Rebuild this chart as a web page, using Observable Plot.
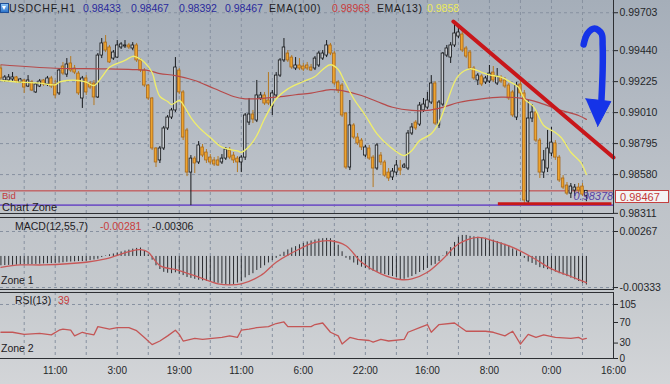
<!DOCTYPE html>
<html><head><meta charset="utf-8">
<script src="https://cdn.jsdelivr.net/npm/d3@7"></script>
<script src="https://cdn.jsdelivr.net/npm/@observablehq/plot@0.6"></script>
<style>
 html,body{margin:0;padding:0;}
 body{width:670px;height:384px;overflow:hidden;background:linear-gradient(180deg,#a5aeb9 0%,#b2b9c2 26%,#bec3c9 52%,#c5c9cd 75%,#d3d5d8 100%);font-family:"Liberation Sans",Arial,sans-serif;}
 #wrap{position:relative;width:670px;height:384px;}
 #wrap svg{position:absolute;left:0;}
 .t{position:absolute;white-space:nowrap;line-height:1;font-size:10.5px;transform:translateY(-50%);color:#1e2023;}
 .hl{position:absolute;left:0;width:614px;height:1px;background:#2d2f33;}
</style></head>
<body><div id="wrap"></div>
<script>
// ---------- DATA ----------
const firstBar = -14;
const open = [
0.99316,0.99233,0.99233,0.99240,0.99254,0.99219,0.99233,0.99191,0.99219,0.99150,
0.99191,0.99233,0.99205,0.99247,0.99205,0.99143,0.99330,0.99274,0.99351,0.99316,
0.99281,0.99108,0.99247,0.99212,0.99212,0.99115,0.99406,0.99496,0.99462,0.99385,
0.99392,0.99462,0.99469,0.99476,0.99455,0.99476,0.99372,0.99302,0.99198,0.99108,
0.98761,0.98678,0.98761,0.98900,0.98976,0.99025,0.99302,0.99150,0.98886,0.98594,
0.98691,0.98664,0.98768,0.98733,0.98698,0.98678,0.98678,0.98664,0.98691,0.98747,
0.98712,0.98691,0.98664,0.98698,0.98941,0.98997,0.98955,0.99108,0.99129,0.99094,
0.99052,0.99129,0.99267,0.99372,0.99420,0.99392,0.99316,0.99337,0.99330,0.99337,
0.99323,0.99316,0.99337,0.99385,0.99406,0.99476,0.99420,0.99219,0.99198,0.99004,
0.98629,0.98921,0.98837,0.98816,0.98712,0.98761,0.98698,0.98622,0.98712,0.98664,
0.98594,0.98560,0.98594,0.98622,0.98629,0.98622,0.98865,0.98941,0.98927,0.99025,
0.99045,0.99080,0.99212,0.98921,0.99066,0.99406,0.99392,0.99476,0.99538,0.99552,
0.99455,0.99427,0.99316,0.99233,0.99261,0.99219,0.99226,0.99288,0.99212,0.99254,
0.99233,0.99198,0.99150,0.98976,0.99205,0.99143,0.98393,0.98969,0.99011,0.98816,
0.98594,0.98622,0.98726,0.98796,0.98698,0.98553,0.98504,0.98448,0.98469,0.98490,0.98497,0.98433];
const high = [
0.99337,0.99267,0.99274,0.99288,0.99261,0.99247,0.99240,0.99267,0.99233,0.99212,
0.99240,0.99240,0.99261,0.99261,0.99233,0.99316,0.99358,0.99385,0.99399,0.99337,
0.99295,0.99261,0.99267,0.99226,0.99233,0.99420,0.99524,0.99545,0.99476,0.99441,
0.99510,0.99496,0.99510,0.99490,0.99496,0.99490,0.99385,0.99316,0.99205,0.99115,
0.98768,0.98775,0.98914,0.98990,0.99039,0.99392,0.99316,0.99163,0.98900,0.98712,
0.98705,0.98809,0.98789,0.98754,0.98719,0.98698,0.98705,0.98719,0.98768,0.98768,
0.98733,0.98705,0.98712,0.99004,0.99108,0.99025,0.99233,0.99150,0.99150,0.99288,
0.99163,0.99288,0.99385,0.99524,0.99441,0.99406,0.99392,0.99385,0.99351,0.99358,
0.99344,0.99399,0.99434,0.99441,0.99510,0.99490,0.99434,0.99233,0.99212,0.99011,
0.99094,0.98934,0.98865,0.98830,0.98782,0.98782,0.98712,0.98796,0.98733,0.98678,
0.98622,0.98622,0.98678,0.98678,0.98657,0.98886,0.98934,0.98955,0.99080,0.99108,
0.99150,0.99267,0.99226,0.99094,0.99427,0.99476,0.99496,0.99635,0.99621,0.99580,
0.99469,0.99441,0.99330,0.99281,0.99274,0.99261,0.99337,0.99330,0.99316,0.99267,
0.99254,0.99212,0.99163,0.99219,0.99247,0.99163,0.99094,0.99066,0.99025,0.98830,
0.98747,0.98886,0.98907,0.98816,0.98712,0.98573,0.98525,0.98518,0.98511,0.98518,0.98518,0.98467];
const low = [
0.99233,0.99219,0.99219,0.99219,0.99212,0.99212,0.99143,0.99184,0.99156,0.99143,
0.99184,0.99191,0.99191,0.99177,0.99108,0.99129,0.99267,0.99254,0.99288,0.99274,
0.99129,0.99039,0.99129,0.99170,0.99059,0.99108,0.99385,0.99427,0.99351,0.99372,
0.99385,0.99448,0.99455,0.99448,0.99441,0.99358,0.99288,0.99184,0.99094,0.98747,
0.98629,0.98657,0.98747,0.98886,0.98962,0.99011,0.99136,0.98816,0.98566,0.98365,
0.98587,0.98650,0.98698,0.98657,0.98650,0.98636,0.98636,0.98650,0.98678,0.98684,
0.98657,0.98594,0.98594,0.98678,0.98921,0.98934,0.98941,0.99094,0.99059,0.99059,
0.98990,0.99115,0.99254,0.99358,0.99358,0.99309,0.99302,0.99302,0.99295,0.99302,
0.99295,0.99302,0.99323,0.99372,0.99392,0.99406,0.99198,0.99143,0.98976,0.98615,
0.98608,0.98823,0.98782,0.98747,0.98698,0.98678,0.98490,0.98608,0.98643,0.98560,
0.98532,0.98539,0.98573,0.98573,0.98622,0.98608,0.98851,0.98886,0.98914,0.99011,
0.99032,0.99066,0.98921,0.98900,0.99052,0.99392,0.99351,0.99462,0.99524,0.99427,
0.99385,0.99302,0.99233,0.99198,0.99191,0.99205,0.99212,0.99219,0.99198,0.99212,
0.99177,0.99094,0.98976,0.98955,0.99122,0.98372,0.98372,0.98941,0.98802,0.98553,
0.98553,0.98594,0.98705,0.98678,0.98525,0.98476,0.98435,0.98414,0.98428,0.98441,0.98428,0.98392];
const close = [
0.99247,0.99254,0.99254,0.99254,0.99226,0.99240,0.99184,0.99233,0.99163,0.99205,
0.99226,0.99205,0.99247,0.99191,0.99129,0.99302,0.99281,0.99344,0.99302,0.99288,
0.99143,0.99247,0.99150,0.99184,0.99115,0.99406,0.99490,0.99441,0.99358,0.99427,
0.99476,0.99483,0.99476,0.99462,0.99476,0.99372,0.99302,0.99198,0.99108,0.98761,
0.98664,0.98761,0.98900,0.98976,0.99025,0.99323,0.99150,0.98837,0.98594,0.98691,
0.98657,0.98782,0.98712,0.98678,0.98664,0.98650,0.98643,0.98691,0.98754,0.98698,
0.98678,0.98664,0.98698,0.98990,0.98997,0.98962,0.99129,0.99129,0.99073,0.99073,
0.99143,0.99267,0.99372,0.99462,0.99372,0.99323,0.99337,0.99316,0.99309,0.99316,
0.99302,0.99385,0.99420,0.99420,0.99476,0.99420,0.99212,0.99163,0.98990,0.98629,
0.98921,0.98837,0.98796,0.98768,0.98768,0.98691,0.98622,0.98782,0.98664,0.98573,
0.98553,0.98601,0.98643,0.98608,0.98643,0.98865,0.98907,0.98900,0.99059,0.99066,
0.99094,0.99212,0.98934,0.99080,0.99420,0.99455,0.99476,0.99559,0.99566,0.99441,
0.99399,0.99316,0.99247,0.99267,0.99205,0.99247,0.99281,0.99233,0.99261,0.99226,
0.99191,0.99108,0.98990,0.99198,0.99143,0.98400,0.98969,0.99011,0.98816,0.98594,
0.98678,0.98761,0.98802,0.98698,0.98539,0.98490,0.98448,0.98497,0.98490,0.98469,0.98441,0.98467];

const ema100Bar = [-14,0,12,20,24,27,31,36,41,46,49,52,57,62,66,71,74,79,83,87,92,96,100,104,110,115,120,125,130,135,137];
const ema100Val = [0.99342,0.99318,0.99314,0.99309,0.99302,0.99281,0.99267,0.99233,0.99177,0.99122,0.99106,0.99106,0.99117,0.99134,0.99145,0.99170,0.99163,0.99129,0.99087,0.99047,0.99025,0.99025,0.99047,0.99080,0.99106,0.99117,0.99110,0.99078,0.99029,0.98990,0.98963];

const ema13Bar = [-14,-9,-4,0,1,3,6,8,10,12,14,18,20,21,23,25,26,27,29,30,32,33,35,37,40,43,47,48,50,52,54,57,60,64,67,69,71,73,74.5,77,80,83,86.5,90,92,94,97,99,101,104,107,110,112,115,117.5,119.5,121,123.5,126,129,130.5,133,135.5,137];
const ema13Val = [0.99233,0.99221,0.99214,0.99203,0.99221,0.99233,0.99233,0.99221,0.99198,0.99256,0.99325,0.99372,0.99401,0.99395,0.99360,0.99288,0.99191,0.99122,0.99087,0.99066,0.99094,0.99066,0.98976,0.98909,0.98837,0.98770,0.98744,0.98735,0.98775,0.98851,0.98967,0.99106,0.99175,0.99226,0.99261,0.99309,0.99342,0.99309,0.99233,0.99106,0.98990,0.98863,0.98770,0.98712,0.98747,0.98816,0.98863,0.98943,0.99082,0.99267,0.99314,0.99290,0.99272,0.99256,0.99221,0.99186,0.99106,0.99047,0.98921,0.98872,0.98837,0.98735,0.98666,0.98582];

const macdHist = [
-0.00100,-0.00098,-0.00096,-0.00095,-0.00093,-0.00090,-0.00090,-0.00088,-0.00087,-0.00085,
-0.00083,-0.00080,-0.00078,-0.00077,-0.00076,-0.00072,-0.00068,-0.00062,-0.00060,-0.00058,
-0.00055,-0.00055,-0.00052,-0.00045,-0.00038,-0.00030,-0.00012,0.00005,0.00018,0.00026,
0.00038,0.00048,0.00058,0.00068,0.00078,0.00086,0.00090,0.00060,0.00015,-0.00040,
-0.00100,-0.00140,-0.00170,-0.00180,-0.00185,-0.00175,-0.00190,-0.00205,-0.00225,-0.00235,
-0.00245,-0.00255,-0.00262,-0.00268,-0.00275,-0.00282,-0.00288,-0.00295,-0.00302,-0.00308,
-0.00300,-0.00285,-0.00270,-0.00230,-0.00205,-0.00185,-0.00150,-0.00128,-0.00100,-0.00070,
-0.00045,-0.00020,0.00015,0.00045,0.00070,0.00090,0.00105,0.00125,0.00140,0.00155,
0.00165,0.00175,0.00185,0.00190,0.00193,0.00190,0.00170,0.00120,0.00050,-0.00020,
-0.00040,-0.00070,-0.00095,-0.00115,-0.00130,-0.00145,-0.00160,-0.00170,-0.00185,-0.00195,
-0.00205,-0.00215,-0.00225,-0.00247,-0.00245,-0.00230,-0.00215,-0.00195,-0.00172,-0.00150,
-0.00128,-0.00100,-0.00085,-0.00055,0.00005,0.00050,0.00095,0.00150,0.00205,0.00225,
0.00225,0.00215,0.00210,0.00205,0.00200,0.00195,0.00185,0.00175,0.00160,0.00145,
0.00130,0.00110,0.00080,0.00060,0.00040,-0.00020,-0.00060,-0.00075,-0.00095,-0.00120,
-0.00130,-0.00142,-0.00155,-0.00168,-0.00185,-0.00200,-0.00216,-0.00232,-0.00250,-0.00268,-0.00288,-0.00306];

const signalBar = [-14,-9,-3,8,13,19,22,24,27,32,37,42,45,48,53,57,63,67,71,75,79,84,89,92,96,100,104,109,113,118,123,128,133,137];
const signalVal = [-0.00116,-0.00091,-0.00091,-0.00062,-0.00027,0.00051,0.00072,0.00044,-0.00098,-0.00151,-0.00222,-0.00293,-0.00304,-0.00293,-0.00204,-0.00062,0.00080,0.00150,0.00168,0.00115,-0.00062,-0.00187,-0.00247,-0.00240,-0.00169,-0.00027,0.00133,0.00204,0.00168,0.00097,-0.00009,-0.00133,-0.00215,-0.00281];

const rsiBar = [-14,-11,-8,-4,-1,1,2,4,5,7,8,10,11,14,16,19,21,23,25,27,29,31,32,33,36,38,43,45,47,48,50,52,55,57,59,60,64,66,67,69,71,73,74,76,78,81,82,84,86,90,91,94,96,97,99,103,106,111,113,116,118,120,122,124,126,129,133,135,136,137];
const rsiVal = [51,51,47,49,46,55,57,55,44,51,49,46,62,57,60,60,54,41,27,34,44,55,47,34,39,37,41,44,41,55,57,60,62,68,71,62,62,62,66,69,51,44,28,41,37,35,32,37,34,37,51,60,66,51,66,69,53,53,51,44,53,28,47,41,46,41,39,41,37,39];

const priceTicks = [0.99703,0.99440,0.99225,0.99010,0.98795,0.98580,0.98311];
const macdTicks = [0.00267,-0.00333];
const rsiTicks = [105,70,30,0];
const timeTickBars = [0,16,32,48,64,80,96,112,128,144];
const timeLabels = ["11:00","3:00","19:00","11:00","6:00","22:00","16:00","8:00","0:00","16:00"];

const zonePrice = 0.98368;
const supportBar = [114.3,143.6];
const supportPrice = 0.98378;
const trendBar = [102.7,144];
const trendVal = [0.99642,0.98698];
const arrowBar = [136.3,137.3,139.1,140.9,141.2,141.2,140.9];
const arrowVal = [0.99483,0.99559,0.99594,0.99559,0.99476,0.99302,0.99101];
const headBar = [136.8,143.3,139.9];
const headVal = [0.99106,0.99087,0.98914];

// ---------- BUILD ----------
const X_DOMAIN = [-14.11, 144];
const last = close.length - 1;
const bidPrice = close[last];
const bars = open.map((o,k)=>({i:firstBar+k, open:o, high:high[k], low:low[k], close:close[k]}));
const bull = bars.filter(d=>d.close>=d.open), bear = bars.filter(d=>d.close<d.open);
const pts = (b,v)=>b.map((x,k)=>({bar:x, val:v[k]}));
const ema100 = pts(ema100Bar, ema100Val), ema13 = pts(ema13Bar, ema13Val);
const hist = macdHist.map((v,k)=>({bar:firstBar+k, val:v, base:0}));
const signal = pts(signalBar, signalVal), rsi = pts(rsiBar, rsiVal);
const trend = pts(trendBar, trendVal), arrow = pts(arrowBar, arrowVal), head = pts(headBar, headVal);
const gridBars = d3.range(-8, 144, 8);

const FONT = '"Liberation Sans", Arial, sans-serif';
const baseStyle = {background:"transparent", fontFamily:FONT, fontSize:"10.5px", color:"#25272a", overflow:"visible"};
const grid = {stroke:"#8791a0", strokeDasharray:"3,3", strokeWidth:1};
const edge = {stroke:"#2d2f33", strokeWidth:1};

const mainChart = Plot.plot({
  width:670, height:214, marginTop:0, marginBottom:0, marginLeft:0, marginRight:57,
  style: baseStyle,
  x: {domain:X_DOMAIN, axis:null},
  y: {domain:[0.98303,0.99788], axis:"right", ticks:priceTicks, tickFormat:d=>d.toFixed(5), tickSize:4, tickPadding:2, label:null},
  marks: [
    Plot.ruleY(priceTicks.slice(0,6), grid),
    Plot.ruleX(gridBars, grid),
    Plot.ruleY([zonePrice], {stroke:"#7458c4", strokeWidth:1.6}),
    Plot.ruleY([bidPrice], {stroke:"#c43a3a", strokeWidth:1}),
    Plot.ruleX(bear, {x:"i", y1:"low", y2:"high", stroke:"#b67a22", strokeWidth:1}),
    Plot.ruleX(bull, {x:"i", y1:"low", y2:"high", stroke:"#17191c", strokeWidth:1}),
    Plot.rect(bear, {x1:d=>d.i-0.33, x2:d=>d.i+0.33, y1:"open", y2:"close", fill:"#eea42e", stroke:"#a8681a", strokeWidth:0.8}),
    Plot.rect(bull, {x1:d=>d.i-0.33, x2:d=>d.i+0.33, y1:"open", y2:"close", fill:"#c9cdd2", stroke:"#141618", strokeWidth:0.8}),
    Plot.line(ema100, {x:"bar", y:"val", stroke:"#b64a4a", strokeWidth:1.2, curve:"catmull-rom"}),
    Plot.line(ema13, {x:"bar", y:"val", stroke:"#f0ee6a", strokeWidth:1.3, curve:"catmull-rom"}),
    Plot.ruleY([{p:supportPrice, a:supportBar[0], b:supportBar[1]}], {y:"p", x1:"a", x2:"b", stroke:"#c81818", strokeWidth:3}),
    Plot.text([{bar:138.8, price:supportPrice}], {x:"bar", y:"price", text:d=>d.price.toFixed(5), dy:-7, fill:"#5a3fa6", fontStyle:"italic", fontSize:11}),
    Plot.line(trend, {x:"bar", y:"val", stroke:"#c8161a", strokeWidth:4}),
    Plot.line(arrow, {x:"bar", y:"val", stroke:"#1533e8", strokeWidth:6.5, curve:"catmull-rom", strokeLinecap:"round"}),
    Plot.line(head, {x:"bar", y:"val", fill:"#1533e8", stroke:"#1533e8", strokeWidth:1, strokeLinejoin:"round"}),
    Plot.ruleX([144], edge)
  ]
});

const macdChart = Plot.plot({
  width:670, height:72, marginTop:0, marginBottom:0, marginLeft:0, marginRight:57,
  style: baseStyle,
  x: {domain:X_DOMAIN, axis:null},
  y: {domain:[-0.00354,0.00417], axis:"right", ticks:macdTicks, tickFormat:d=>d.toFixed(5), tickSize:4, tickPadding:2, label:null},
  marks: [
    Plot.ruleY(macdTicks, grid),
    Plot.ruleX(gridBars, grid),
    Plot.ruleX(hist, {x:"bar", y1:"base", y2:"val", stroke:"#2a2c30", strokeWidth:1}),
    Plot.line(signal, {x:"bar", y:"val", stroke:"#c85858", strokeWidth:1.3, curve:"catmull-rom"}),
    Plot.ruleX([144], edge)
  ]
});

const rsiChart = Plot.plot({
  width:670, height:92, marginTop:0, marginBottom:26, marginLeft:0, marginRight:57,
  style: {...baseStyle, fontSize:"10px"},
  x: {domain:X_DOMAIN, axis:"bottom", ticks:timeTickBars, tickFormat:d=>timeLabels[timeTickBars.indexOf(d)], tickSize:0, tickPadding:8, label:null},
  y: {domain:[0,128.3], axis:"right", ticks:rsiTicks, tickFormat:d=>String(d), tickSize:4, tickPadding:2, label:null},
  marks: [
    Plot.ruleY([105], grid),
    Plot.ruleX(gridBars, grid),
    Plot.line(rsi, {x:"bar", y:"val", stroke:"#c45656", strokeWidth:1.3}),
    Plot.ruleX([144], edge)
  ]
});

const wrap = document.getElementById("wrap");
[[mainChart,0],[macdChart,217],[rsiChart,292]].forEach(([c,top])=>{c.style.top=top+"px"; wrap.appendChild(c);});

// panel separators
[213,217,289,292,358].forEach(y=>{const d=document.createElement("div"); d.className="hl"; d.style.top=y+"px"; wrap.appendChild(d);});

function label(text, x, y, css={}) {
  const s=document.createElement("span"); s.className="t"; s.textContent=text;
  s.style.left=x+"px"; s.style.top=y+"px"; Object.assign(s.style, css); wrap.appendChild(s); return s;
}
// header icon
const icon=document.createElement("div");
Object.assign(icon.style,{position:"absolute",left:"0px",top:"3px",width:"7px",height:"8px",background:"linear-gradient(#8cc4f4,#2c74cc)",border:"1px solid #1d4f98"});
const tri=document.createElement("div");
Object.assign(tri.style,{position:"absolute",left:"1px",top:"2px",width:"0",height:"0",borderLeft:"2.5px solid transparent",borderRight:"2.5px solid transparent",borderTop:"4px solid #fff"});
icon.appendChild(tri); wrap.appendChild(icon);

const navy="#2a2a9c";
label("USDCHF,H1", 9, 8, {letterSpacing:"0.9px"});
label(open[last].toFixed(5), 83, 8, {color:navy});
label(high[last].toFixed(5), 131, 8, {color:navy});
label(low[last].toFixed(5), 179, 8, {color:navy});
label(close[last].toFixed(5), 225, 8, {color:navy});
label("EMA(100)", 269, 8, {letterSpacing:"0.6px"});
label(ema100Val[ema100Val.length-1].toFixed(5), 332, 8, {color:"#c83c3c"});
label("EMA(13)", 377, 8, {letterSpacing:"0.6px"});
label(ema13Val[ema13Val.length-1].toFixed(4), 427, 8, {color:"#ecea5c"});

// bid label box
const yMain = mainChart.scale("y");
const by = yMain.apply(bidPrice);
const box=document.createElement("div");
Object.assign(box.style,{position:"absolute",left:"615px",top:(by)+"px",width:"54px",height:"13px",background:"#f4f4f4",border:"1px solid #c44040",boxSizing:"border-box"});
wrap.appendChild(box);
label(bidPrice.toFixed(5), 620, by+7, {color:"#c43a3a", fontSize:"11px"});

label("Bid", 2, 195.5, {color:"#c43a3a", fontSize:"9.5px"});
label("Chart Zone", 2, 207, {fontSize:"11px"});

label("MACD(12,55,7)", 15, 226);
label(signalVal[signalVal.length-1].toFixed(5), 100, 226, {color:"#c83c3c"});
label(macdHist[last].toFixed(5), 152, 226);
label("Zone 1", 1, 280);
label("RSI(13)", 15, 300);
label(String(rsiVal[rsiVal.length-1]), 58, 300, {color:"#c83c3c"});
label("Zone 2", 1, 348);
</script></body></html>
